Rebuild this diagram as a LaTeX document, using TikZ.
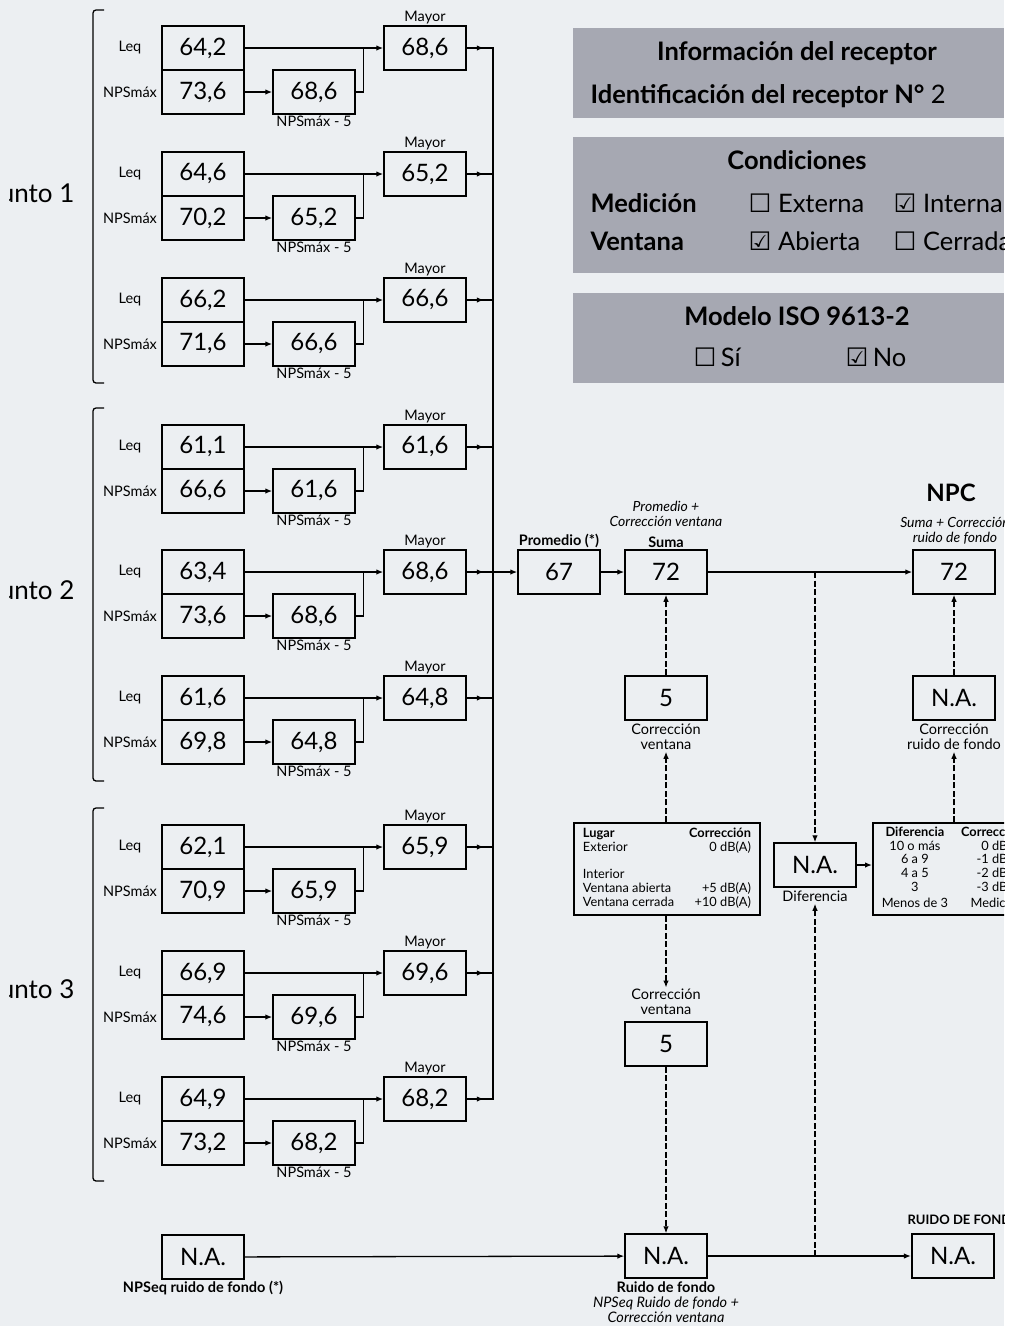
\documentclass[tikz,border=0pt]{standalone}
\usepackage{fontspec}
\setmainfont{Lato}
\newfontfamily\symfont{DejaVu Sans}
\usetikzlibrary{positioning, arrows.meta}
\newcommand\fsz[1]{\fontsize{#1}{#1}\selectfont}
\newcommand\caja{{\symfont ☐}}
\newcommand\marca{{\symfont ☑}}
\definecolor{fondo}{RGB}{236,239,242}
\definecolor{panelgris}{RGB}{166,168,178}

\begin{document}
\begin{tikzpicture}[x=1pt, y=-1pt, line width=1.3pt, >={Latex[length=7pt,width=5.5pt]},
  box/.style={draw, line width=1.5pt, minimum width=82pt, minimum height=44pt, inner sep=0pt, font=\fsz{24}},
  lbl/.style={font=\fsz{14.5}, inner sep=1pt},
  sm/.style={font=\fontsize{14.5}{15}\selectfont, align=center, inner sep=1pt},
  smb/.style={font=\fontsize{14.5}{15}\selectfont\bfseries, align=center, inner sep=1pt},
  smi/.style={font=\fontsize{14}{15}\selectfont\itshape, align=center, inner sep=1pt},
  tbl/.style={draw, line width=1.5pt, minimum height=92pt, inner xsep=9pt, inner ysep=0pt, font=\fontsize{12.8}{12.3}\selectfont},
  dsh/.style={dash pattern=on 6pt off 2.5pt, line width=1.2pt},
  big/.style={font=\fsz{25.5}, inner sep=0pt},
  bigb/.style={font=\fsz{25.5}\bfseries, inner sep=0pt}]
% hoja
\useasboundingbox (0,0) rectangle (1009,1326);
\clip (0,0) rectangle (1004,1326);
\fill[fondo] (0,0) rectangle (1004,1326);
% puntos
\begin{scope}
\clip (9,0) rectangle (90,1326);
\foreach \k/\y in {1/202, 2/599, 3/998}
  \node[font=\fsz{26}, inner sep=0pt, anchor=base east] (pto\k) at (75,\y) {Punto \k};
\end{scope}
\foreach \t in {10, 408, 808}
  \draw[rounded corners=3pt] (104,\t) -- (93,\t) -- (93,\t+373) -- (104,\t+373);
% mediciones
\coordinate (bus) at (493,48);
\foreach \n/\y/\a/\b/\c in {1/48/{64,2}/{73,6}/{68,6}, 2/174/{64,6}/{70,2}/{65,2}, 3/300/{66,2}/{71,6}/{66,6},
    4/447/{61,1}/{66,6}/{61,6}, 5/572/{63,4}/{73,6}/{68,6}, 6/698/{61,6}/{69,8}/{64,8},
    7/847/{62,1}/{70,9}/{65,9}, 8/973/{66,9}/{74,6}/{69,6}, 9/1099/{64,9}/{73,2}/{68,2}} {
  \node[lbl] (lq\n) at (130,\y) {Leq};
  \node[lbl] (ln\n) at (130,\y+44) {NPSmáx};
  \node[box] (leq\n) at (203,\y) {\a};
  \node[box, below=-1.5pt of leq\n] (nps\n) {\b};
  \node[box, right=27.5pt of nps\n, label={[lbl]below:NPSmáx - 5}] (red\n) {\c};
  \node[box, label={[lbl]above:Mayor}] (may\n) at (425,\y) {\c};
  \draw[->] (leq\n) -- (may\n);
  \draw[->] (nps\n) -- (red\n);
  \draw (red\n.east) -| ([xshift=-20pt]may\n.west);
  \draw (may\n.east) -- (may\n.east -| bus);
  \draw[->] (may\n.east) -- ++(17,0);
}
\draw (may1.east) -| (bus |- may9.east) -- (may9.east);
% promedio y suma
\node[box, label={[smb]above:Promedio (*)}] (prom) at (559,572) {67};
\node[box, label={[smb]above:Suma}] (suma) at (666,572) {72};
\node[smi] (sumaTxt) at (666,514) {Promedio +\\Corrección ventana};
\node[box] (npc) at (954,572) {72};
\node[font=\fsz{24}\bfseries] (npcTit) at (951,493) {NPC};
\node[smi] (npcTxt) at (955,531) {Suma + Corrección\\ruido de fondo};
\draw[->] (bus |- may5.east) -- (prom);
\draw[->] (prom) -- (suma);
\draw[->] (suma) -- (npc);
\coordinate (j1) at (815,572);
% correccion ventana
\node[box] (corv) at (666,698) {5};
\node[sm, below=2pt of corv] (corvTxt) {Corrección\\ventana};
\draw[->, dsh] (corv) -- (suma);
\node[tbl] (lugar) at (667,869) {\begin{tabular}{@{}l@{\hspace{15pt}}r@{}}
  \textbf{Lugar} & \textbf{Corrección}\\
  Exterior & 0 dB(A)\\[14.5pt]
  Interior & \\
  Ventana abierta & +5 dB(A)\\
  Ventana cerrada & +10 dB(A)
  \end{tabular}};
\draw[->, dsh] (corvTxt |- lugar.north) -- (corvTxt);
\node[sm] (cor2Txt) at (666,1002) {Corrección\\ventana};
\node[box] (cor2) at (666,1044) {5};
\draw[->, dsh] (cor2Txt |- lugar.south) -- (cor2Txt);
% ruido de fondo
\node[box] (ruido) at (666,1256) {N.A.};
\node[sm, below=1pt of ruido] (ruidoTxt) {\textbf{Ruido de fondo}\\\textit{NPSeq Ruido de fondo +}\\\textit{Corrección ventana}};
\draw[->, dsh] (cor2) -- (ruido);
\node[box, label={[smb]below:NPSeq ruido de fondo (*)}] (npsF) at (203,1257) {N.A.};
\draw[->] (npsF) -- (ruido);
\node[box, line width=2.2pt] (rf) at (953,1256) {N.A.};
\node[smb, font=\fsz{13}\bfseries, anchor=west] (rfTit) at (906,1220) {RUIDO DE FONDO};
\draw[->] (ruido) -- (rf);
\coordinate (j2) at (815,1256);
% diferencia
\node[box] (dif) at (815,865) {N.A.};
\node[sm, below=2pt of dif] (difTxt) {Diferencia};
\draw[->, dsh] (j1) -- (dif);
\draw[->, dsh] (j2) -- (difTxt);
\node[tbl, anchor=west] (dtab) at (872,869) {\begin{tabular}{@{}c@{\hspace{13pt}}r@{}}
  \textbf{Diferencia} & \textbf{Corrección}\\
  10 o más & 0 dB(A)\\
  6 a 9 & -1 dB(A)\\
  4 a 5 & -2 dB(A)\\
  3 & -3 dB(A)\\[3pt]
  Menos de 3 & Medición
  \end{tabular}};
\draw[->] (dif.east) -- (dif.east -| dtab.west);
\node[box] (cfon) at (954,698) {N.A.};
\node[sm, below=2pt of cfon] (cfonTxt) {Corrección\\ruido de fondo};
\draw[->, dsh] (cfon) -- (npc);
\draw[->, dsh] (cfonTxt |- dtab.north) -- (cfonTxt);
% paneles
\fill[panelgris] (573,28) rectangle (1004,118);
\fill[panelgris] (573,137) rectangle (1004,273);
\fill[panelgris] (573,293) rectangle (1004,383);
\node[bigb, anchor=base] (info) at (797,60) {Información del receptor};
\node[big, anchor=base west] (ident) at (590,103) {\bfseries Identificación del receptor N°\mdseries{} 2};
\node[bigb, anchor=base] (cond) at (797,169) {Condiciones};
\node[bigb, anchor=base west] (med) at (590,212) {Medición};
\node[bigb, anchor=base west] (ven) at (590,250) {Ventana};
\node[big, anchor=base west] (ext) at (748,212) {\caja\ Externa};
\node[big, anchor=base west] (int) at (893,212) {\marca\ Interna};
\node[big, anchor=base west] (abi) at (748,250) {\marca\ Abierta};
\node[big, anchor=base west] (cer) at (893,250) {\caja\ Cerrada};
\node[bigb, anchor=base] (iso) at (797,325) {Modelo ISO 9613-2};
\node[big, anchor=base west] (si) at (693,366) {\caja\,Sí};
\node[big, anchor=base west] (no) at (845,366) {\marca\,No};
\end{tikzpicture}
\end{document}
